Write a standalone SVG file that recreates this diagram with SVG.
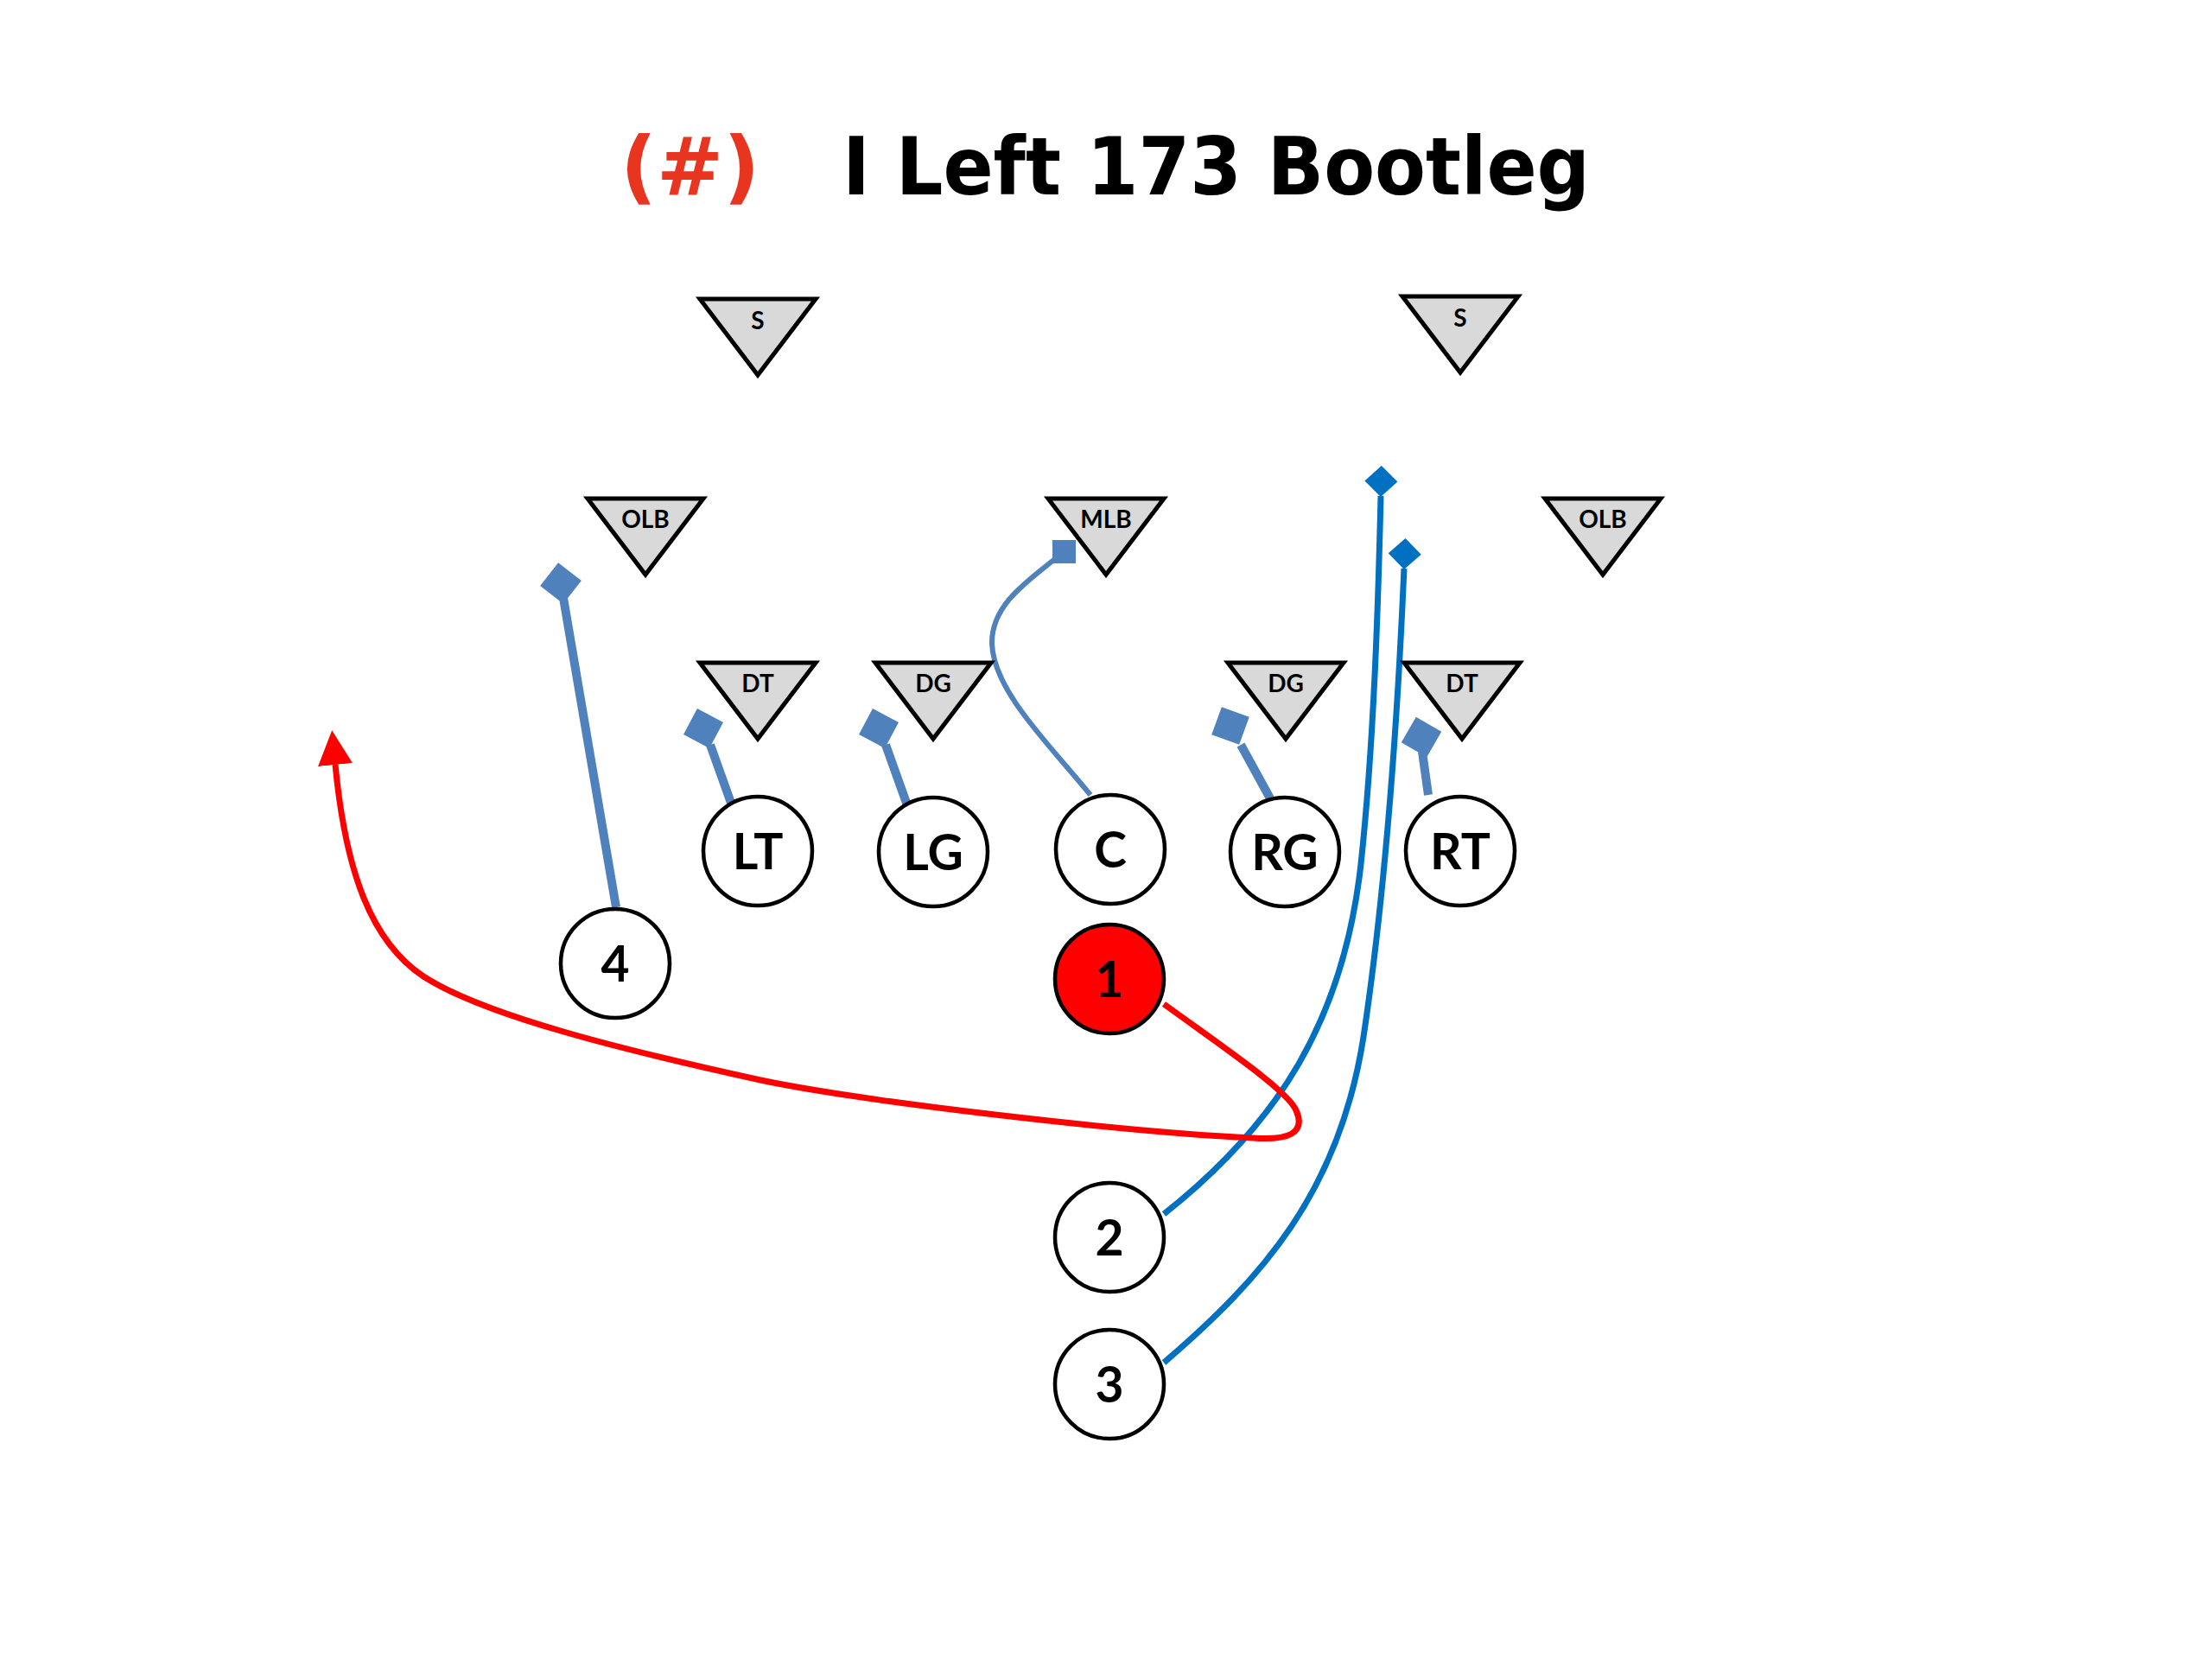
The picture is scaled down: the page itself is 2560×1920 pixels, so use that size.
<svg xmlns="http://www.w3.org/2000/svg" width="2560" height="1920" viewBox="0 0 2560 1920">
<defs>
<style>
.tri{fill:#D9D9D9;stroke:#000;stroke-width:5;stroke-linejoin:miter}
.dl{font-family:Lato,"Open Sans","Liberation Sans",sans-serif;font-weight:bold;font-size:28px;text-anchor:middle;fill:#000}
.pl{fill:#fff;stroke:#000;stroke-width:4.5}
.qb{fill:#FF0000;stroke:#000;stroke-width:4.5}
.ol{font-family:Lato,"Open Sans","Liberation Sans",sans-serif;font-weight:bold;font-size:57px;text-anchor:middle;fill:#000}
.blk{fill:none;stroke:#4F81BD;stroke-width:10}
.sq{fill:#4F81BD}
.route{fill:none;stroke:#0070C0;stroke-width:7;marker-end:url(#diam)}
.run{fill:none;stroke:#FF0000;stroke-width:7;marker-end:url(#arrow)}
.title{font-family:"DejaVu Sans",Verdana,sans-serif;font-weight:bold;font-size:92px}
</style>
<polygon id="tri" points="-67,0 67,0 0,88"/>
<rect id="sqr" x="-17" y="-17" width="34" height="34"/>
<marker id="diam" viewBox="0 0 38 38" refX="1" refY="19" markerWidth="38" markerHeight="38" markerUnits="userSpaceOnUse" orient="auto">
<path d="M0,19 L18,0 L36,19 L18,38 z" fill="#0070C0"/>
</marker>
<marker id="arrow" viewBox="0 0 40 40" refX="0" refY="20" markerWidth="40" markerHeight="40" markerUnits="userSpaceOnUse" orient="auto">
<path d="M0,0 L40,20 L0,40 z" fill="#FF0000"/>
</marker>
</defs>
<rect width="2560" height="1920" fill="#fff"/>

<g id="title">
<text class="title" x="718" y="225" fill="#E8351F">(#)</text>
<text class="title" x="975" y="225" fill="#000" textLength="865" lengthAdjust="spacingAndGlyphs">I Left 173 Bootleg</text>
</g>

<g id="connectors">
<path class="blk" d="M713,1050 L652,692"/>
<use href="#sqr" class="sq" transform="translate(649,675) rotate(38)"/>
<path class="blk" d="M847,932 L822,862"/>
<use href="#sqr" class="sq" transform="translate(814,843) rotate(28)"/>
<path class="blk" d="M1050,932 L1025,862"/>
<use href="#sqr" class="sq" transform="translate(1017,843) rotate(28)"/>
<path class="blk" d="M1470,924 L1436,862"/>
<use href="#sqr" class="sq" transform="translate(1424,840) rotate(20)"/>
<path class="blk" d="M1653,920 L1646,870"/>
<use href="#sqr" class="sq" transform="translate(1645,853) rotate(30)"/>
<path fill="none" stroke="#4F81BD" stroke-width="6" d="M1262,920 C1215,862 1150,800 1148,745 C1147,700 1190,672 1222,646"/>
<rect class="sq" x="1218" y="625" width="27" height="27"/>
<path class="route" d="M1347,1405 C1480,1300 1555,1180 1575,1000 C1590,860 1595,700 1598,574"/>
<path class="route" d="M1347,1577 C1460,1480 1550,1380 1578,1200 C1605,1020 1618,820 1625,658"/>
<path class="run" d="M1347,1162 C1420,1215 1490,1262 1500,1285 C1512,1312 1490,1320 1450,1317 C1300,1310 1000,1275 880,1250 C720,1215 560,1175 490,1130 C430,1090 400,1010 388,885"/>
</g>

<g id="S-left"><use href="#tri" class="tri" x="877" y="346"/><text class="dl" x="877" y="381">S</text></g>
<g id="S-right"><use href="#tri" class="tri" x="1690" y="343"/><text class="dl" x="1690" y="378">S</text></g>
<g id="OLB-left"><use href="#tri" class="tri" x="747" y="577"/><text class="dl" x="747" y="611">OLB</text></g>
<g id="MLB"><use href="#tri" class="tri" x="1280" y="577"/><text class="dl" x="1280" y="611">MLB</text></g>
<g id="OLB-right"><use href="#tri" class="tri" x="1855" y="577"/><text class="dl" x="1855" y="611">OLB</text></g>
<g id="DT-left"><use href="#tri" class="tri" x="877" y="767"/><text class="dl" x="877" y="801">DT</text></g>
<g id="DG-left"><use href="#tri" class="tri" x="1080" y="767"/><text class="dl" x="1080" y="801">DG</text></g>
<g id="DG-right"><use href="#tri" class="tri" x="1488" y="767"/><text class="dl" x="1488" y="801">DG</text></g>
<g id="DT-right"><use href="#tri" class="tri" x="1692" y="767"/><text class="dl" x="1692" y="801">DT</text></g>

<g id="LT"><circle class="pl" cx="877" cy="985" r="63"/><text class="ol" x="877" y="1006">LT</text></g>
<g id="LG"><circle class="pl" cx="1080" cy="986" r="63"/><text class="ol" x="1080" y="1007">LG</text></g>
<g id="C"><circle class="pl" cx="1285" cy="983" r="63"/><text class="ol" x="1285" y="1004">C</text></g>
<g id="RG"><circle class="pl" cx="1487" cy="986" r="63"/><text class="ol" x="1487" y="1007">RG</text></g>
<g id="RT"><circle class="pl" cx="1690" cy="985" r="63"/><text class="ol" x="1690" y="1006">RT</text></g>
<g id="P4"><circle class="pl" cx="712" cy="1115" r="63"/><text class="ol" x="712" y="1136">4</text></g>
<g id="P1"><circle class="qb" cx="1284" cy="1133" r="63"/><text class="ol" x="1284" y="1154">1</text></g>
<g id="P2"><circle class="pl" cx="1284" cy="1432" r="63"/><text class="ol" x="1284" y="1453">2</text></g>
<g id="P3"><circle class="pl" cx="1284" cy="1602" r="63"/><text class="ol" x="1284" y="1623">3</text></g>
</svg>
